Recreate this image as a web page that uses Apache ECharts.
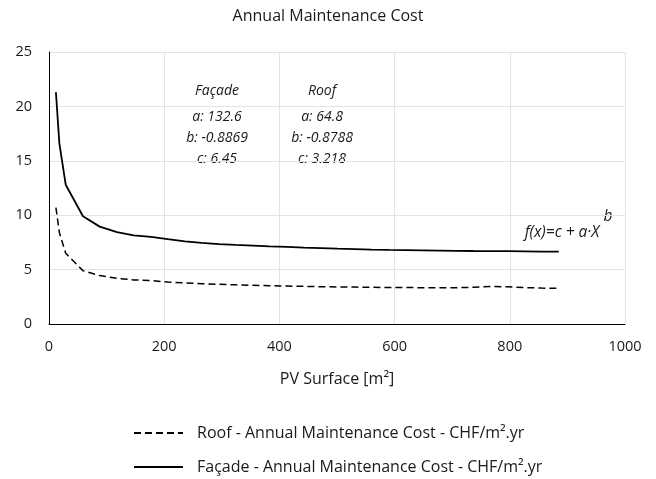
<!DOCTYPE html>
<html>
<head>
<meta charset="utf-8">
<script src="https://cdn.jsdelivr.net/npm/echarts@6/dist/echarts.min.js"></script>
<style>html,body{margin:0;padding:0;background:#fff}#c{width:656px;height:479px}</style>
</head>
<body>
<div id="c"></div>
<script>
const surfaces = [12, 18, 29, 59, 88, 118, 147, 177, 206, 236, 265, 295, 324, 354, 383, 413, 442, 472, 501, 531, 560, 590, 619, 649, 678, 708, 737, 767, 796, 826, 855, 885];
const facadeCost = [21.3, 16.6, 12.8, 9.9, 8.95, 8.45, 8.15, 8.0, 7.8, 7.6, 7.45, 7.35, 7.27, 7.2, 7.13, 7.08, 7.02, 6.97, 6.92, 6.88, 6.84, 6.81, 6.79, 6.77, 6.75, 6.73, 6.71, 6.7, 6.69, 6.68, 6.66, 6.65];
const roofCost = [10.7, 8.4, 6.5, 4.9, 4.45, 4.2, 4.05, 4.0, 3.85, 3.77, 3.7, 3.65, 3.6, 3.56, 3.52, 3.49, 3.46, 3.43, 3.41, 3.39, 3.37, 3.36, 3.35, 3.34, 3.33, 3.33, 3.38, 3.45, 3.42, 3.35, 3.3, 3.28];
const xTicks = [0, 200, 400, 600, 800, 1000];
const yTicks = [0, 5, 10, 15, 20, 25];
const roofName = 'Roof - Annual Maintenance Cost - CHF/m\u00b2.yr';
const facadeName = 'Fa\u00e7ade - Annual Maintenance Cost - CHF/m\u00b2.yr';
const FONT = 'Open Sans';

const chart = echarts.init(document.getElementById('c'));
const pair = arr => surfaces.map((x, i) => [x, arr[i]]);
const italic = {fontFamily: FONT, fontStyle: 'italic', fontSize: 14, fill: '#1a1a1a', textAlign: 'center', textVerticalAlign: 'middle'};
const legendBase = {orient: 'horizontal', left: 128, itemWidth: 49, itemHeight: 14,
  itemStyle: {opacity: 0, borderWidth: 0},
  textStyle: {fontFamily: FONT, fontSize: 16, color: '#1a1a1a', padding: [0, 0, 0, 9]}};
chart.setOption({
  animation: false,
  textStyle: {fontFamily: FONT},
  title: {text: 'Annual Maintenance Cost', left: 'center', top: 3,
    textStyle: {fontFamily: FONT, fontSize: 16, fontWeight: 'normal', color: '#1a1a1a'}},
  grid: {left: 49, right: 31, top: 52, bottom: 155, containLabel: false},
  xAxis: {type: 'value', min: xTicks[0], max: xTicks[xTicks.length - 1], interval: 200,
    name: 'PV Surface [m\u00b2]', nameLocation: 'middle', nameGap: 47,
    nameTextStyle: {fontFamily: FONT, fontSize: 16, color: '#1a1a1a'},
    axisLine: {show: true, lineStyle: {color: '#000', width: 1}}, axisTick: {show: false},
    axisLabel: {fontFamily: FONT, fontSize: 14.5, color: '#1a1a1a', margin: 15, formatter: v => String(v)},
    splitLine: {show: true, lineStyle: {color: '#e3e3e3', width: 1}}},
  yAxis: {type: 'value', min: yTicks[0], max: yTicks[yTicks.length - 1], interval: 5,
    axisLine: {show: true, lineStyle: {color: '#000', width: 1}}, axisTick: {show: false},
    axisLabel: {fontFamily: FONT, fontSize: 14.5, color: '#1a1a1a', margin: 17},
    splitLine: {show: true, lineStyle: {color: '#e3e3e3', width: 1}}},
  legend: [
    Object.assign({}, legendBase, {top: 420, data: [roofName]}),
    Object.assign({}, legendBase, {top: 454, data: [facadeName]})
  ],
  series: [
    {name: roofName, type: 'line', data: pair(roofCost), showSymbol: false, symbol: 'none', smooth: false,
      lineStyle: {color: '#000', width: 1.5, type: [7, 4]}, itemStyle: {color: '#000'}},
    {name: facadeName, type: 'line', data: pair(facadeCost), showSymbol: false, symbol: 'none', smooth: false,
      lineStyle: {color: '#000', width: 1.8}, itemStyle: {color: '#000'}}
  ],
  graphic: [
    {type: 'text', x: 217, y: 91, style: Object.assign({text: 'Fa\u00e7ade'}, italic)},
    {type: 'text', x: 217, y: 117, style: Object.assign({text: 'a: 132.6'}, italic)},
    {type: 'text', x: 217, y: 138, style: Object.assign({text: 'b: -0.8869'}, italic)},
    {type: 'text', x: 217, y: 159, style: Object.assign({text: 'c: 6.45'}, italic)},
    {type: 'text', x: 322, y: 91, style: Object.assign({text: 'Roof'}, italic)},
    {type: 'text', x: 322, y: 117, style: Object.assign({text: 'a: 64.8'}, italic)},
    {type: 'text', x: 322, y: 138, style: Object.assign({text: 'b: -0.8788'}, italic)},
    {type: 'text', x: 322, y: 159, style: Object.assign({text: 'c: 3.218'}, italic)},
    {type: 'text', x: 562, y: 233, style: Object.assign({}, italic, {text: 'f(x)=c + a\u00b7X', fontSize: 15.5})},
    {type: 'text', x: 608, y: 217, style: Object.assign({}, italic, {text: 'b', fontSize: 15.5})}
  ]
});
</script>
</body>
</html>
